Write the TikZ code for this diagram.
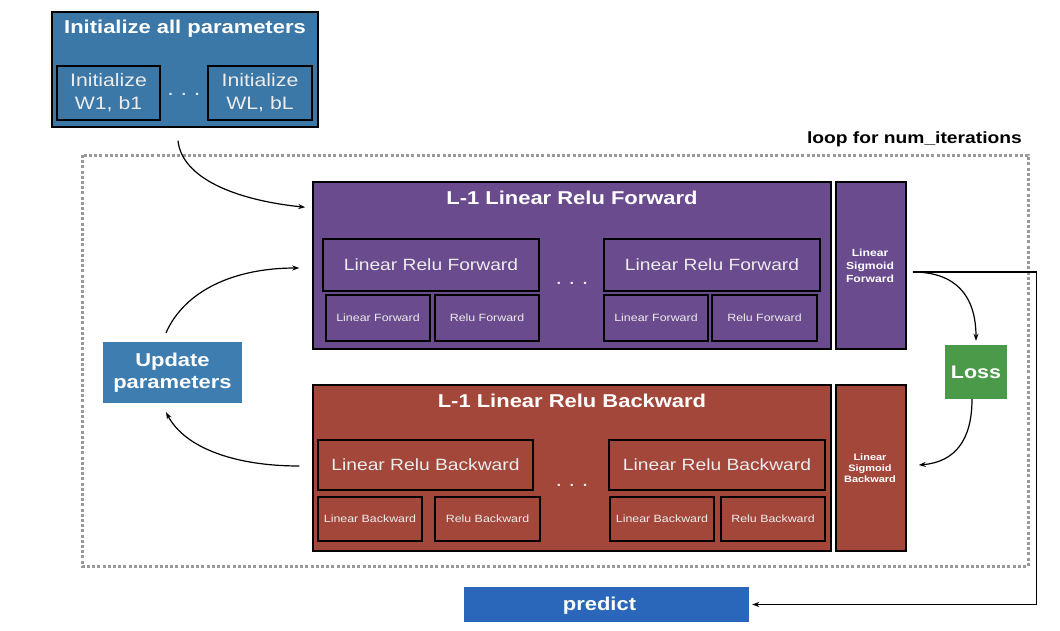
\documentclass[tikz,border=0pt]{standalone}
\usepackage{fontspec}
\setmainfont{Liberation Sans}[FakeStretch=1.18]
\usetikzlibrary{arrows.meta}

\definecolor{initblue}{HTML}{3B77A7}
\definecolor{updblue}{HTML}{3E7DB0}
\definecolor{predblue}{HTML}{2A66BA}
\definecolor{fwdpurple}{HTML}{6A4B8E}
\definecolor{bwdred}{HTML}{A4473B}
\definecolor{lossgreen}{HTML}{4A9A4A}
\definecolor{loopgray}{HTML}{999999}
\definecolor{softwhite}{HTML}{ECECEC}

\tikzset{
  bigbox/.style={draw=black, line width=1.5pt, inner sep=0pt},
  subbox/.style={draw=black, line width=1.8pt, inner sep=0pt, text=softwhite, align=center},
  plainbox/.style={inner sep=0pt, text=white, align=center},
  titletext/.style={text=white, inner sep=0pt, font=\fontsize{18.6}{22}\selectfont\bfseries},
  midtext/.style={font=\fontsize{16.3}{20}\selectfont},
  smalltext/.style={font=\fontsize{10.5}{12}\selectfont},
  dotstext/.style={text=softwhite, inner sep=0pt, font=\fontsize{20}{22}\selectfont},
  flow/.style={line width=1.2pt, -{Stealth[length=7pt,width=5pt]}},
}

\begin{document}
\begin{tikzpicture}[x=1pt,y=-1pt]
\useasboundingbox (0,0) rectangle (1060,630);

% ---------- initialization block ----------
\node[bigbox, fill=initblue, minimum width=266pt, minimum height=115pt] (init) at (185,69.5) {};
\node[titletext] (inittitle) at (185,29) {Initialize all parameters};
\node[subbox, minimum width=103pt, minimum height=54pt,
      font=\fontsize{18}{23}\selectfont] (initfirst) at (108.5,93) {\raisebox{-2pt}{\parbox{100pt}{\centering Initialize\\W1, b1}}};
\node[subbox, minimum width=104pt, minimum height=54pt,
      font=\fontsize{18}{23}\selectfont] (initlast) at (260,93) {\raisebox{-2pt}{\parbox{100pt}{\centering Initialize\\WL, bL}}};
\node[dotstext] (initdots) at (184,94) {.\,\,.\,\,.};

% ---------- training loop frame ----------
\draw[loopgray, line width=3pt, dash pattern=on 3pt off 2.2pt] (82,155) rectangle (1028,566);
\node[anchor=east, inner sep=0pt, font=\fontsize{16.3}{18}\selectfont\bfseries] (looplabel) at (1022,139) {loop for num\_iterations};

% ---------- forward pass ----------
\node[bigbox, fill=fwdpurple, minimum width=518pt, minimum height=167pt] (fwd) at (572,265.5) {};
\node[titletext] (fwdtitle) at (572,198) {L-1 Linear Relu Forward};
\node[subbox, midtext, minimum width=216pt, minimum height=52pt] (lrf1) at (431,265) {Linear Relu Forward};
\node[subbox, midtext, minimum width=216pt, minimum height=52pt] (lrf2) at (712,265) {Linear Relu Forward};
\node[subbox, smalltext, minimum width=104pt, minimum height=46pt] (lf1) at (378,318) {Linear Forward};
\node[subbox, smalltext, minimum width=104pt, minimum height=46pt] (rf1) at (487,318) {Relu Forward};
\node[subbox, smalltext, minimum width=104pt, minimum height=46pt] (lf2) at (656,318) {Linear Forward};
\node[subbox, smalltext, minimum width=105pt, minimum height=46pt] (rf2) at (764.5,318) {Relu Forward};
\node[dotstext] (fwddots) at (572,283) {.\,\,.\,\,.};

\node[bigbox, fill=fwdpurple, minimum width=70pt, minimum height=167pt] (sigf) at (871,265.5) {};
\node[plainbox, font=\fontsize{10.3}{13}\selectfont\bfseries] (sigftext) at (870,266) {Linear\\Sigmoid\\Forward};

% ---------- loss ----------
\node[plainbox, fill=lossgreen, minimum width=62pt, minimum height=54pt,
      font=\fontsize{18.2}{20}\selectfont\bfseries] (loss) at (976,372) {Loss};

% ---------- backward pass ----------
\node[bigbox, fill=bwdred, minimum width=518pt, minimum height=166pt] (bwd) at (572,468) {};
\node[titletext] (bwdtitle) at (572,401) {L-1 Linear Relu Backward};
\node[subbox, midtext, minimum width=215pt, minimum height=50pt] (lrb1) at (425.5,465) {Linear Relu Backward};
\node[subbox, midtext, minimum width=216pt, minimum height=50pt] (lrb2) at (717,465) {Linear Relu Backward};
\node[subbox, smalltext, minimum width=104pt, minimum height=44pt] (lb1) at (370,519) {Linear Backward};
\node[subbox, smalltext, minimum width=105pt, minimum height=44pt] (rb1) at (487.5,519) {Relu Backward};
\node[subbox, smalltext, minimum width=104pt, minimum height=44pt] (lb2) at (662,519) {Linear Backward};
\node[subbox, smalltext, minimum width=104pt, minimum height=44pt] (rb2) at (773,519) {Relu Backward};
\node[dotstext] (bwddots) at (572,485) {.\,\,.\,\,.};

\node[bigbox, fill=bwdred, minimum width=70pt, minimum height=166pt] (sigb) at (871,468) {};
\node[plainbox, font=\fontsize{9.3}{11}\selectfont\bfseries] (sigbtext) at (870,468) {Linear\\Sigmoid\\Backward};

% ---------- update and predict ----------
\node[plainbox, fill=updblue, minimum width=139pt, minimum height=61pt,
      font=\fontsize{18.6}{22}\selectfont\bfseries] (update) at (172.5,372.5) {Update\\parameters};
\node[plainbox, fill=predblue, minimum width=285pt, minimum height=35pt] (predict) at (606.5,604.5) {};
\node[plainbox, font=\fontsize{18.6}{20}\selectfont\bfseries] (predicttext) at (599.5,606) {predict};

% ---------- connectors ----------
\draw[flow] ([shift={(-7pt,-13pt)}]init.south)
  .. controls (182,178) and (235,200) .. ([shift={(-7pt,-26pt)}]fwd.north west);
\draw[flow] ([shift={(-6.5pt,9pt)}]update.north)
  .. controls (185,290) and (235,268) .. ([shift={(-13pt,-2.5pt)}]fwd.west);
\draw[flow] ([shift={(-13pt,2pt)}]bwd.west)
  .. controls (235,466) and (185,448) .. ([shift={(-6.5pt,-9pt)}]update.south);
\draw[flow] ([shift={(6pt,-6.5pt)}]sigf.east)
  .. controls (955,272) and (976,295) .. ([yshift=4pt]loss.north);
\draw[flow] ([xshift=-4pt]loss.south)
  .. controls (972,440) and (955,462) .. ([shift={(12pt,3pt)}]sigb.east);
\draw[flow] ([shift={(6pt,-6.5pt)}]sigf.east) -- ++(124pt,0pt) |- ([xshift=3pt]predict.east);

\end{tikzpicture}
\end{document}
